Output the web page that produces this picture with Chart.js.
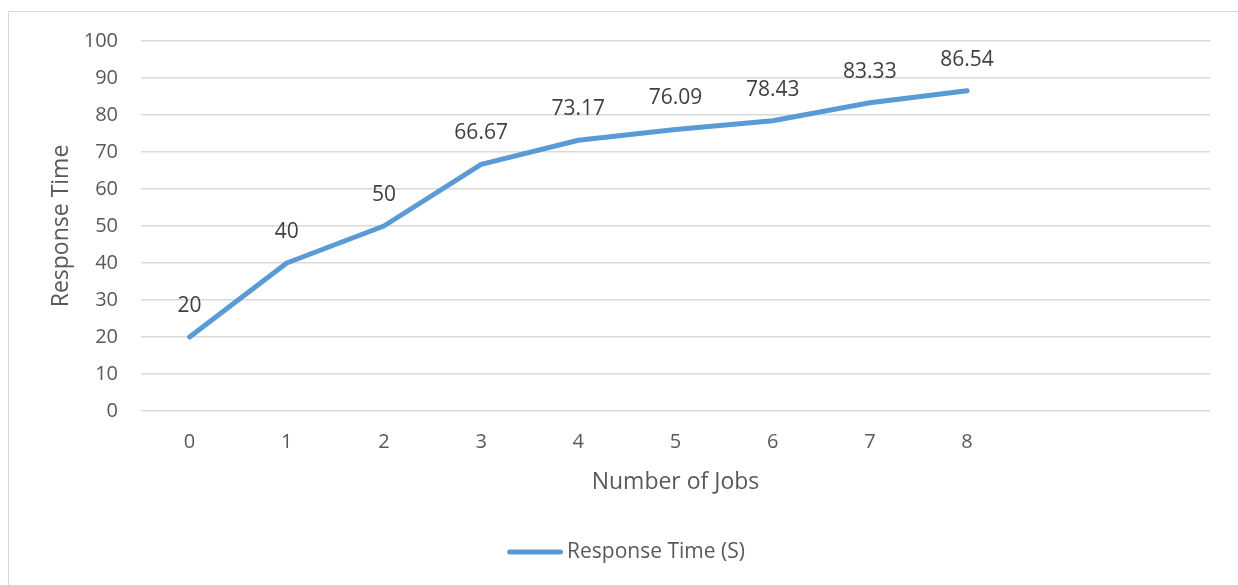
<!DOCTYPE html>
<html>
<head>
<meta charset="utf-8">
<script src="https://cdn.jsdelivr.net/npm/chart.js@4"></script>
<style>
  html, body { margin: 0; padding: 0; background: #fff; overflow: hidden; }
  #wrap { position: relative; width: 1238px; height: 585px; }
  #frame { position: absolute; left: 8px; top: 11px; width: 1300px; height: 700px; border: 1px solid #d9d9d9; box-sizing: border-box; pointer-events: none; }
  canvas { position: absolute; left: 0; top: 0; }
</style>
</head>
<body>
<div id="wrap">
  <div id="frame"></div>
  <canvas id="c" width="1238" height="585"></canvas>
</div>
<script>
// Number of jobs on the x axis (two trailing empty slots keep the plot wide)
const jobs = ['0', '1', '2', '3', '4', '5', '6', '7', '8', '', ''];
// Measured response time per job count
const responseTime = [20, 40, 50, 66.67, 73.17, 76.09, 78.43, 83.33, 86.54, null, null];
const yTicks = { min: 0, max: 100, step: 10 };
const seriesName = 'Response Time (S)';
const xTitle = 'Number of Jobs';
const yTitle = 'Response Time';

const FONT = '"Open Sans", "Liberation Sans", sans-serif';
const LINE_COLOR = '#5b9bd5';

// Value labels above each point
const valueLabels = {
  id: 'valueLabels',
  afterDatasetsDraw(chart) {
    const ctx = chart.ctx;
    const meta = chart.getDatasetMeta(0);
    ctx.save();
    ctx.font = '21px ' + FONT;
    ctx.fillStyle = '#404040';
    ctx.textAlign = 'center';
    ctx.textBaseline = 'middle';
    meta.data.forEach((pt, i) => {
      const v = responseTime[i];
      if (v === null || v === undefined) return;
      ctx.fillText(String(v), pt.x, pt.y - 31);
    });
    ctx.restore();
  }
};

// Line-sample legend centred under the plot
const lineLegend = {
  id: 'lineLegend',
  afterDraw(chart) {
    const ctx = chart.ctx;
    ctx.save();
    ctx.font = '21px ' + FONT;
    const sample = 56, gap = 4;
    const tw = ctx.measureText(seriesName).width;
    const total = sample + gap + tw;
    const cx = chart.width / 2 + 7;
    const y = chart.height - 33;
    const x0 = cx - total / 2;
    ctx.strokeStyle = LINE_COLOR;
    ctx.lineWidth = 5;
    ctx.lineCap = 'round';
    ctx.beginPath();
    ctx.moveTo(x0 + 2.5, y);
    ctx.lineTo(x0 + sample - 2.5, y);
    ctx.stroke();
    ctx.fillStyle = '#595959';
    ctx.textAlign = 'left';
    ctx.textBaseline = 'middle';
    ctx.fillText(seriesName, x0 + sample + gap, y);
    ctx.restore();
  }
};

new Chart(document.getElementById('c'), {
  type: 'line',
  data: {
    labels: jobs,
    datasets: [{
      label: seriesName,
      data: responseTime,
      borderColor: LINE_COLOR,
      backgroundColor: LINE_COLOR,
      borderWidth: 5,
      borderCapStyle: 'round',
      borderJoinStyle: 'round',
      pointRadius: 0,
      pointHoverRadius: 0,
      tension: 0,
      spanGaps: false
    }]
  },
  options: {
    responsive: false,
    animation: false,
    events: [],
    layout: { padding: { left: 0, right: 28, top: 41, bottom: 74 } },
    plugins: {
      legend: { display: false },
      tooltip: { enabled: false }
    },
    scales: {
      x: {
        type: 'category',
        offset: true,
        grid: { display: false, drawTicks: false },
        border: { display: false },
        ticks: {
          color: '#595959',
          font: { family: FONT, size: 20 },
          padding: 19,
          maxRotation: 0,
          autoSkip: false
        },
        title: {
          display: true,
          text: xTitle,
          color: '#595959',
          font: { family: FONT, size: 23 },
          padding: { top: 10, bottom: 15 }
        },
        afterFit(scale) { scale.height = 100; }
      },
      y: {
        min: yTicks.min,
        max: yTicks.max,
        grid: { color: '#d9d9d9', lineWidth: 1.5, drawTicks: false },
        border: { display: false },
        ticks: {
          stepSize: yTicks.step,
          color: '#595959',
          font: { family: FONT, size: 20 },
          padding: 23
        },
        title: {
          display: true,
          text: yTitle,
          color: '#595959',
          font: { family: FONT, size: 23 },
          padding: { top: 48, bottom: 0 }
        },
        afterFit(scale) { scale.width = 141; }
      }
    }
  },
  plugins: [valueLabels, lineLegend]
});
</script>
</body>
</html>
